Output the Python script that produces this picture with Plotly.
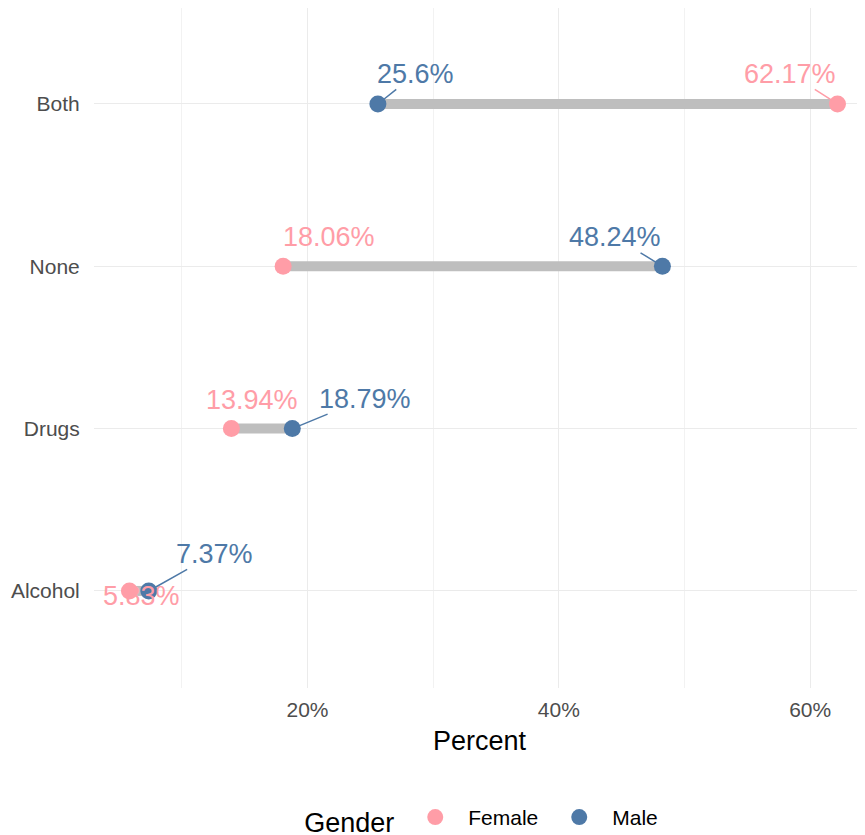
import plotly.graph_objects as go

categories = ["Alcohol", "Drugs", "None", "Both"]
female = [5.83, 13.94, 18.06, 62.17]
male = [7.37, 18.79, 48.24, 25.6]
female_labels = ["5.83%", "13.94%", "18.06%", "62.17%"]
male_labels = ["7.37%", "18.79%", "48.24%", "25.6%"]

FEMALE_C = "#FF9DA7"
MALE_C = "#4E79A7"
FONT = "Liberation Sans, Arial, sans-serif"

# label offsets (pixels, label center relative to point) mimicking ggrepel placement
female_off = [(12, 5, False), (21, -29, False), (46, -29, False), (-47, -30, True)]
male_off = [(66, -37, True), (73, -30, True), (-47, -29, True), (38, -30, True)]

fig = go.Figure()

seg_x, seg_y = [], []
for c, f, m in zip(categories, female, male):
    seg_x += [f, m, None]
    seg_y += [c, c, None]
fig.add_trace(go.Scatter(x=seg_x, y=seg_y, mode="lines",
                         line=dict(color="#BEBEBE", width=10),
                         showlegend=False, hoverinfo="skip"))

fig.add_trace(go.Scatter(x=female, y=categories, mode="markers", name="Female",
                         marker=dict(color=FEMALE_C, size=17)))
fig.add_trace(go.Scatter(x=male, y=categories, mode="markers", name="Male",
                         marker=dict(color=MALE_C, size=17)))

annotations = []
for vals, labs, offs, col in [(female, female_labels, female_off, FEMALE_C),
                              (male, male_labels, male_off, MALE_C)]:
    for c, v, lab, (ax, ay, seg) in zip(categories, vals, labs, offs):
        annotations.append(dict(
            x=v, y=c, xref="x", yref="y", text=lab,
            showarrow=True, ax=ax, ay=ay, axref="pixel", ayref="pixel",
            arrowhead=0, arrowwidth=1.5, standoff=6,
            arrowcolor=col if seg else "rgba(0,0,0,0)",
            font=dict(family=FONT, size=27, color=col),
            bgcolor="rgba(0,0,0,0)", borderpad=0,
        ))

fig.update_layout(
    width=857, height=827,
    margin=dict(l=86, r=0, t=0, b=147, autoexpand=False),
    plot_bgcolor="white", paper_bgcolor="white",
    font=dict(family=FONT, color="#4D4D4D"),
    annotations=annotations,
    legend=dict(
        orientation="h", x=0.27, xanchor="left", y=-0.194, yanchor="middle",
        title=dict(text="Gender", font=dict(size=27, color="black")),
        font=dict(size=21, color="black"),
        itemwidth=56, entrywidth=73,
    ),
    xaxis=dict(
        range=[3.01, 64.36], tick0=0, dtick=20, ticksuffix="%",
        showgrid=True, gridcolor="#EBEBEB", gridwidth=1.3,
        minor=dict(tick0=0, dtick=10, showgrid=True, gridcolor="#F2F2F2", gridwidth=0.8),
        zeroline=False, showline=False, automargin=False,
        ticks="outside", ticklen=3, tickcolor="rgba(0,0,0,0)",
        tickfont=dict(size=21, color="#4D4D4D"),
        title=dict(text="Percent", font=dict(size=27, color="black"), standoff=10),
    ),
    yaxis=dict(
        categoryorder="array", categoryarray=categories,
        range=[-0.598, 3.591],
        showgrid=True, gridcolor="#EBEBEB", gridwidth=1.3,
        zeroline=False, showline=False, automargin=False,
        ticks="outside", ticklen=9, tickcolor="rgba(0,0,0,0)",
        tickfont=dict(size=21, color="#4D4D4D"),
    ),
)

fig.write_html("out.html")
